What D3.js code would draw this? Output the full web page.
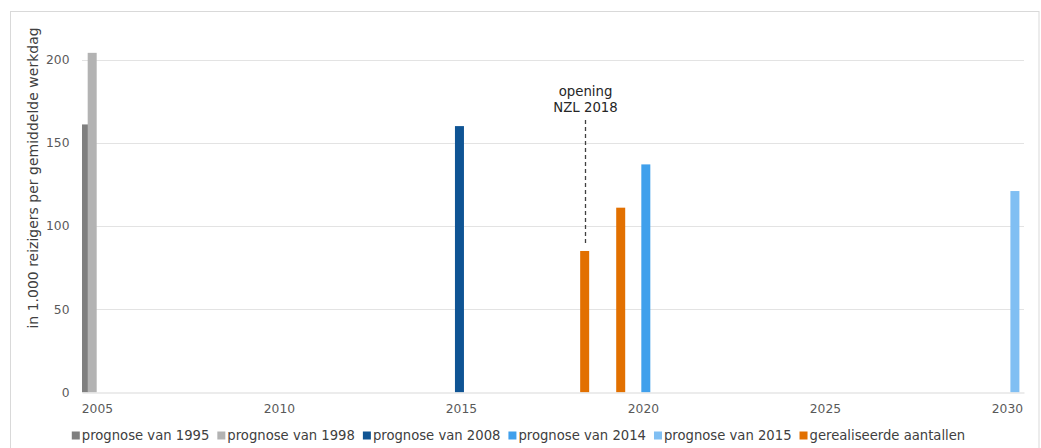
<!DOCTYPE html>
<html>
<head>
<meta charset="utf-8">
<script src="https://cdn.jsdelivr.net/npm/d3@7"></script>
<style>
  html, body { margin: 0; padding: 0; background: #fff; }
  svg { display: block; font-family: "DejaVu Sans", Verdana, sans-serif; }
</style>
</head>
<body>
<svg id="chart" width="1041" height="448"></svg>
<script>
// ---- data ----
const seriesNames = ["prognose van 1995", "prognose van 1998", "prognose van 2008",
                     "prognose van 2014", "prognose van 2015", "gerealiseerde aantallen"];
const seriesColors = ["#7f7f7f", "#b3b3b3", "#0f5494", "#40a0ec", "#80bff3", "#e27000"];
// bar positions on the (continuous) time axis, in years
const prognose1995Years = [2004.64];
const prognose1995Values = [161];
const prognose1998Years = [2004.87];
const prognose1998Values = [204];
const prognose2008Years = [2014.96];
const prognose2008Values = [160];
const prognose2014Years = [2020.08];
const prognose2014Values = [137];
const prognose2015Years = [2030.22];
const prognose2015Values = [121];
const gerealiseerdYears = [2018.40, 2019.39];
const gerealiseerdValues = [85, 111];
const xTicks = [2005, 2010, 2015, 2020, 2025, 2030];
const yTicks = [0, 50, 100, 150, 200];
const yTitle = "in 1.000 reizigers per gemiddelde werkdag";
const annotationLines = ["opening", "NZL 2018"];
const annotationYear = 2018.40;
const annotationValue = 85;

const seriesYears = [prognose1995Years, prognose1998Years, prognose2008Years,
                     prognose2014Years, prognose2015Years, gerealiseerdYears];
const seriesValues = [prognose1995Values, prognose1998Values, prognose2008Values,
                      prognose2014Values, prognose2015Values, gerealiseerdValues];

// ---- layout ----
const svg = d3.select("#chart");
const plot = { left: 82, right: 1024, top: 59.5, bottom: 392.5 };

svg.append("rect")
  .attr("x", 10.5).attr("y", 11.5).attr("width", 1028.5).attr("height", 460)
  .attr("fill", "none").attr("stroke", "#d9d9d9").attr("stroke-width", 1);

const x = d3.scaleLinear().domain([2004.59, 2030.47]).range([plot.left, plot.right]);
const y = d3.scaleLinear().domain([0, 200]).range([plot.bottom, plot.top]);

// gridlines
svg.append("g").selectAll("line").data(yTicks.filter(d => d !== 0)).join("line")
  .attr("x1", plot.left).attr("x2", plot.right)
  .attr("y1", d => Math.round(y(d)) + 0.5).attr("y2", d => Math.round(y(d)) + 0.5)
  .attr("stroke", "#e3e3e3").attr("stroke-width", 1);

// clip for plot area
svg.append("clipPath").attr("id", "plotclip").append("rect")
  .attr("x", plot.left).attr("y", 0).attr("width", plot.right - plot.left).attr("height", plot.bottom);

// bars
const barW = 9;
const bars = svg.append("g").attr("clip-path", "url(#plotclip)");
seriesNames.forEach((name, i) => {
  const data = seriesYears[i].map((yr, j) => ({ year: yr, value: seriesValues[i][j] }));
  bars.selectAll(null).data(data).join("rect")
    .attr("x", d => x(d.year) - barW / 2)
    .attr("width", barW)
    .attr("y", d => y(d.value))
    .attr("height", d => y(0) - y(d.value))
    .attr("fill", seriesColors[i]);
});

// x axis
const xAxis = svg.append("g").attr("transform", `translate(0,${plot.bottom})`)
  .call(d3.axisBottom(x).tickValues(xTicks).tickFormat(d3.format("d"))
    .tickSize(0).tickSizeOuter(0).tickPadding(12));
xAxis.select(".domain").attr("stroke", "#d9d9d9");
xAxis.selectAll("text").attr("fill", "#595959").attr("font-size", 12.3)
  .attr("font-family", "DejaVu Sans, Verdana, sans-serif");

// y axis
const yAxis = svg.append("g").attr("transform", `translate(${plot.left},0)`)
  .call(d3.axisLeft(y).tickValues(yTicks).tickSize(0).tickPadding(12.5));
yAxis.select(".domain").remove();
yAxis.selectAll("text").attr("fill", "#595959").attr("font-size", 12.3)
  .attr("font-family", "DejaVu Sans, Verdana, sans-serif");

// y title
svg.append("text")
  .attr("transform", `translate(37.5,${(plot.top + plot.bottom) / 2 - 48}) rotate(-90)`)
  .attr("text-anchor", "middle")
  .attr("font-size", 14).attr("fill", "#404040")
  .text(yTitle);

// annotation
const ax = Math.round(x(annotationYear)) + 0.5;
svg.append("line")
  .attr("x1", ax).attr("x2", ax)
  .attr("y1", 120).attr("y2", y(annotationValue) - 6)
  .attr("stroke", "#404040").attr("stroke-width", 1.3).attr("stroke-dasharray", "4,3");
svg.append("text")
  .attr("x", ax).attr("y", 96)
  .attr("text-anchor", "middle").attr("font-size", 13.3).attr("fill", "#262626")
  .selectAll("tspan").data(annotationLines).join("tspan")
  .attr("x", ax).attr("dy", (d, i) => i === 0 ? 0 : 15.7)
  .text(d => d);

// legend
const legend = svg.append("g");
let lx = 0;
const gap = 8;
seriesNames.forEach((name, i) => {
  const g = legend.append("g");
  g.append("rect").attr("x", 0).attr("y", -8).attr("width", 8).attr("height", 8)
    .attr("fill", seriesColors[i]);
  const t = g.append("text").attr("x", 10).attr("y", 0)
    .attr("font-size", 13.2).attr("fill", "#404040").text(name);
  const w = t.node().getComputedTextLength();
  g.attr("transform", `translate(${lx},0)`);
  lx += 10 + w + gap;
});
const totalW = lx - gap;
legend.attr("transform", `translate(${518.5 - totalW / 2},439.5)`);
</script>
</body>
</html>
